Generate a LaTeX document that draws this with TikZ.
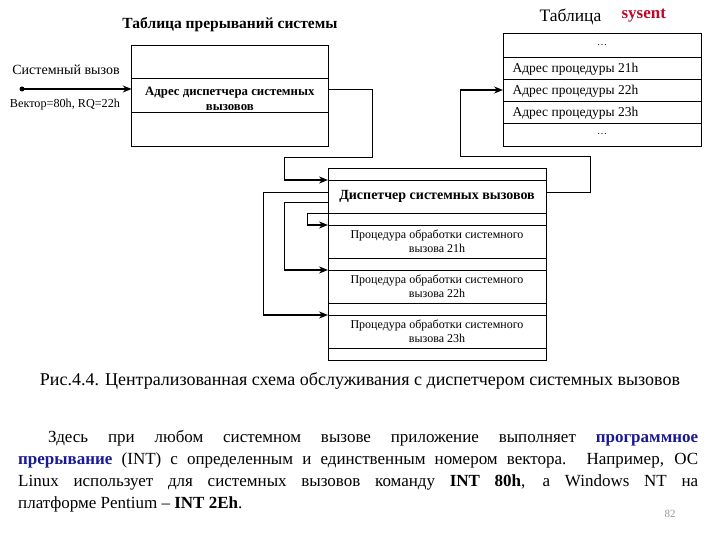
\documentclass[tikz,border=0pt]{standalone}
\usepackage{fontspec}
\setmainfont{Liberation Serif}
\usetikzlibrary{arrows.meta,calc}
\definecolor{sysred}{RGB}{190,10,40}
\definecolor{termblue}{RGB}{25,25,150}
\definecolor{pagegray}{RGB}{150,150,150}
\tikzset{
  cell/.style={draw, line width=0.8pt, rectangle, inner sep=0pt, outer sep=0pt, anchor=north west, align=center},
  thinline/.style={line width=0.8pt},
  arrowline/.style={line width=1.6pt, -{Stealth[length=9pt,width=7pt,inset=3pt]}},
  smalltxt/.style={font=\fontsize{12}{14}\selectfont},
  rowtxt/.style={anchor=west, font=\fontsize{13.5}{15}\selectfont},
}
\begin{document}
\begin{tikzpicture}[x=1pt,y=-1pt]
\useasboundingbox (0,0) rectangle (720,540);
% titles
\node[font=\fontsize{15.5}{18}\selectfont\bfseries] (ttl) at (230,25) {Таблица прерываний системы};
\node[font=\fontsize{17.5}{18}\selectfont, anchor=west] (ttl2) at (536,17) {Таблица};
\node[font=\fontsize{17}{18}\selectfont\bfseries, text=sysred, anchor=west] (ttl3) at (618,16) {sysent};
% left interrupt table
\node[cell, minimum width=196.3pt, minimum height=33pt] (lt1) at (131.7,45) {};
\node[cell, minimum width=196.3pt, minimum height=34pt] (lt2) at (131.7,78) {};
\node[cell, minimum width=196.3pt, minimum height=34pt] (lt3) at (131.7,112) {};
\node[font=\fontsize{12.8}{15}\selectfont\bfseries, align=center] (lt2t) at ($(lt2.center)+(0,4)$) {Адрес диспетчера системных\\вызовов};
% call labels
\node[font=\fontsize{14}{16}\selectfont] (sv) at (66,70) {Системный вызов};
\node[font=\fontsize{12.2}{14}\selectfont] (vec) at (65,105) {Вектор=80h, RQ=22h};
\fill (22,89) circle (2.5pt) coordinate (dot);
\draw[arrowline] (dot) -- (lt2.west |- dot);
% sysent table
\node[cell, minimum width=198pt, minimum height=24pt] (st1) at (503,33) {…};
\node[cell, minimum width=198pt, minimum height=22pt] (st2) at (503,57) {};
\node[cell, minimum width=198pt, minimum height=22pt] (st3) at (503,79) {};
\node[cell, minimum width=198pt, minimum height=22pt] (st4) at (503,101) {};
\node[cell, minimum width=198pt, minimum height=23pt] (st5) at (503,123) {…};
\node[rowtxt] (st2t) at (509,69) {Адрес процедуры 21h};
\node[rowtxt] (st3t) at (509,91) {Адрес процедуры 22h};
\node[rowtxt] (st4t) at (509,113) {Адрес процедуры 23h};
% dispatcher stack
\node[cell, minimum width=218pt, minimum height=12pt] (d0) at (328,168) {};
\node[cell, minimum width=218pt, minimum height=33pt, font=\fontsize{14}{16}\selectfont\bfseries] (d1) at (328,180) {Диспетчер системных вызовов};
\node[cell, minimum width=218pt, minimum height=12pt] (d2) at (328,213) {};
\node[cell, minimum width=218pt, minimum height=33pt, smalltxt] (p1) at (328,225) {Процедура обработки системного\\вызова 21h};
\node[cell, minimum width=218pt, minimum height=12pt] (d3) at (328,258) {};
\node[cell, minimum width=218pt, minimum height=33pt, smalltxt] (p2) at (328,270) {Процедура обработки системного\\вызова 22h};
\node[cell, minimum width=218pt, minimum height=12pt] (d4) at (328,303) {};
\node[cell, minimum width=218pt, minimum height=33pt, smalltxt] (p3) at (328,315) {Процедура обработки системного\\вызова 23h};
\node[cell, minimum width=218pt, minimum height=12pt] (d5) at (328,348) {};
% connector: interrupt table -> dispatcher
\coordinate (a1) at (372,89);
\coordinate (a2) at (372,157);
\coordinate (a3) at (284,157);
\coordinate (a4) at (284,180);
\draw[thinline] (lt2.east |- a1) -- (a1) -- (a2) -- (a3) -- (a4);
\draw[arrowline] (a4) -- (d1.north west);
% connector: dispatcher -> sysent
\coordinate (b0) at (546,192);
\coordinate (b1) at (590,192);
\coordinate (b2) at (590,156);
\coordinate (b3) at (460,156);
\coordinate (b4) at (460,90);
\draw[thinline] (b0) -- (b1) -- (b2) -- (b3) -- (b4);
\draw[arrowline] (b4) -- (st3.west);
% loops: dispatcher -> procedures
\coordinate (c0) at (328,192);
\coordinate (c1) at (263,192);
\coordinate (c2) at (263,315);
\draw[thinline] (c0) -- (c1) -- (c2);
\draw[arrowline] (c2) -- (p3.north west);
\coordinate (e0) at (328,202);
\coordinate (e1) at (284,202);
\coordinate (e2) at (284,270);
\draw[thinline] (e0) -- (e1) -- (e2);
\draw[arrowline] (e2) -- (p2.north west);
\coordinate (f1) at (307,213);
\coordinate (f2) at (307,225);
\draw[thinline] (d2.north west) -- (f1) -- (f2);
\draw[arrowline] (f2) -- (p1.north west);
% caption
\node[font=\fontsize{18}{20}\selectfont] (cap) at (360,381) {Рис.4.4. Централизованная схема обслуживания с диспетчером системных вызовов};
% paragraph
\node[anchor=north west, inner sep=0pt, text width=680pt, align=justify, font=\fontsize{17}{22}\selectfont] (par) at (18,430)
{\hspace*{30pt}Здесь при любом системном вызове приложение выполняет \textcolor{termblue}{\textbf{программное}}\linebreak
\textcolor{termblue}{\textbf{прерывание}} (INT) с определенным и единственным номером вектора. Например, ОС\linebreak
Linux использует для системных вызовов команду \textbf{INT 80h}, a Windows NT на\linebreak
платформе Pentium – \textbf{INT 2Eh}.};
\node[font=\fontsize{11}{13}\selectfont, text=pagegray] (pg) at (670,514) {82};
\end{tikzpicture}
\end{document}
